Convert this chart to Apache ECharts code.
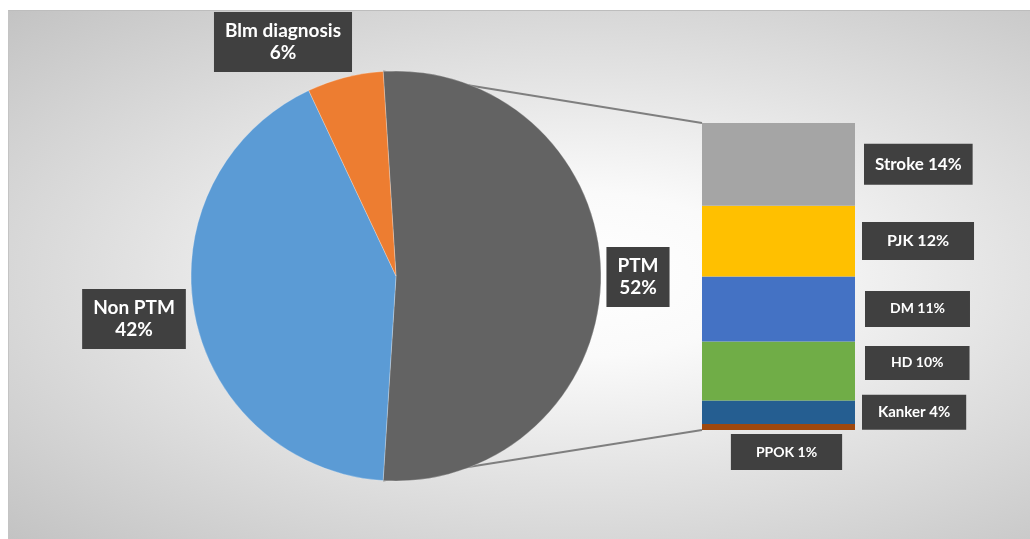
<!DOCTYPE html>
<html>
<head>
<meta charset="utf-8">
<script src="https://cdn.jsdelivr.net/npm/echarts@6/dist/echarts.min.js"></script>
<style>
  html, body { margin: 0; padding: 0; background: #ffffff; }
  #wrap { position: relative; width: 1030px; height: 539px; overflow: hidden; }
  #bg {
    position: absolute; left: 8px; top: 10px; width: 1022px; height: 529px;
    box-sizing: border-box; border-top: 1px solid #bdbdbd; border-left: 1px solid #c4c4c4;
    background: radial-gradient(ellipse farthest-corner at 56% 50%, #ffffff 0%, #fafafa 22%, #e2e2e2 55%, #c3c3c3 100%);
  }
  #chart { position: absolute; left: 0; top: 0; width: 1030px; height: 539px; }
</style>
</head>
<body>
<div id="wrap"><div id="bg"></div><div id="chart"></div></div>
<script>
// Main pie: share of diagnoses
const pieNames = ['PTM', 'Non PTM', 'Blm diagnosis'];
const pieValues = [52, 42, 6];
const pieColors = ['#636363', '#5B9BD5', '#ED7D31'];

// Breakdown of PTM, drawn as a stacked bar (top to bottom)
const barNames = ['Stroke', 'PJK', 'DM', 'HD', 'Kanker', 'PPOK'];
const barValues = [14, 12, 11, 10, 4, 1];
const barColors = ['#A5A5A5', '#FFC000', '#4472C4', '#70AD47', '#255E91', '#9E480E'];

const FONT = 'Lato, "Open Sans", sans-serif';
const pieCenter = [396, 276];
const pieRadius = 205;

const pieTotal = pieValues.reduce((a, b) => a + b, 0);
const barTotal = barValues.reduce((a, b) => a + b, 0);
// the exploded slice is centred on the 3 o'clock direction
const startAngle = 180 * pieValues[0] / pieTotal;

// label anchor points for the pie slices
const pieLabelPos = { 'PTM': [638, 277], 'Non PTM': [134, 319], 'Blm diagnosis': [283, 42] };

// per-category label tweaks for the bar
const barLabelFont = { 'Stroke': 17, 'PJK': 16, 'DM': 14, 'HD': 14, 'Kanker': 15, 'PPOK': 14 };
const barLabelPad = { 'Stroke': [12, 11], 'PJK': [11, 25], 'DM': [11, 25], 'HD': [10, 26], 'Kanker': [10, 16], 'PPOK': [11, 25] };
const barLabelShift = { 'Stroke': [2, 0], 'PJK': [0, 0], 'DM': [3, 0], 'HD': [3, -8], 'Kanker': [0, 0], 'PPOK': [8, 0] };

const chart = echarts.init(document.getElementById('chart'), null, { renderer: 'canvas' });

const darkBox = {
  color: '#ffffff',
  fontFamily: FONT,
  fontWeight: 'bold',
  backgroundColor: '#404040'
};

const barSeries = [];
for (let i = barNames.length - 1; i >= 0; i--) {
  const name = barNames[i];
  const isLast = name === 'PPOK';
  barSeries.push({
    type: 'bar',
    name: name,
    stack: 'ptm',
    barWidth: '100%',
    data: [barValues[i]],
    itemStyle: { color: barColors[i] },
    silent: true,
    label: Object.assign({}, darkBox, {
      show: true,
      position: isLast ? 'bottom' : 'right',
      distance: isLast ? 4 : 7,
      offset: barLabelShift[name],
      formatter: '{a} {c}%',
      fontSize: barLabelFont[name],
      padding: barLabelPad[name]
    })
  });
}

const option = {
  animation: false,
  backgroundColor: 'transparent',
  grid: { left: 702, top: 123, width: 153, height: 307 },
  xAxis: { type: 'category', data: ['PTM'], show: false },
  yAxis: { type: 'value', min: 0, max: barTotal, show: false },
  series: [
    {
      type: 'pie',
      center: pieCenter,
      radius: pieRadius,
      startAngle: startAngle,
      clockwise: true,
      silent: true,
      data: pieNames.map((n, i) => ({ name: n, value: pieValues[i], itemStyle: { color: pieColors[i] } })),
      itemStyle: { borderColor: 'rgba(255,255,255,0.5)', borderWidth: 0.5 },
      labelLine: { show: false },
      label: Object.assign({}, darkBox, {
        show: true,
        position: 'outside',
        formatter: '{b}\n{c}%',
        fontSize: 19,
        lineHeight: 22,
        align: 'center',
        padding: [8, 11]
      }),
      labelLayout: function (params) {
        const p = pieLabelPos[pieNames[params.dataIndex]];
        return { x: p[0], y: p[1], align: 'center', verticalAlign: 'middle' };
      }
    }
  ].concat(barSeries)
};

chart.setOption(option);

// connector lines from the PTM slice edges to the bar's corners
function drawConnectors() {
  const a = startAngle * Math.PI / 180;
  const topPt = [pieCenter[0] + pieRadius * Math.cos(a), pieCenter[1] - pieRadius * Math.sin(a)];
  const botPt = [pieCenter[0] + pieRadius * Math.cos(-a), pieCenter[1] - pieRadius * Math.sin(-a)];
  const rect = chart.getModel().getComponent('grid').coordinateSystem.getRect();
  const yTop = chart.convertToPixel({ yAxisIndex: 0 }, barTotal);
  const yBot = chart.convertToPixel({ yAxisIndex: 0 }, 0);
  const lineStyle = { stroke: '#7f7f7f', lineWidth: 2 };
  chart.setOption({
    graphic: [
      { type: 'line', shape: { x1: topPt[0], y1: topPt[1], x2: rect.x, y2: yTop }, style: lineStyle, z: 1 },
      { type: 'line', shape: { x1: botPt[0], y1: botPt[1], x2: rect.x, y2: yBot }, style: lineStyle, z: 1 }
    ]
  });
}
drawConnectors();
</script>
</body>
</html>
